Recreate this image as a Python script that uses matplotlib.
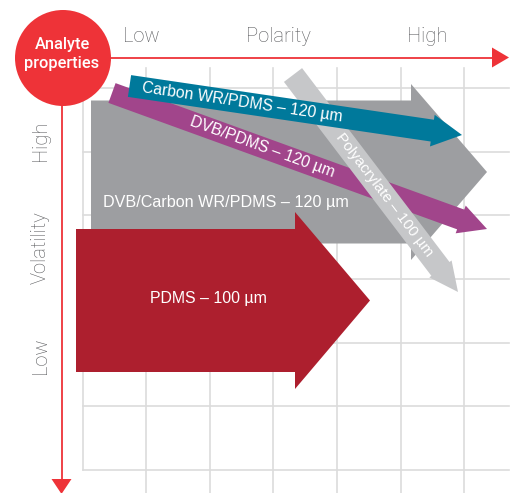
import numpy as np
import matplotlib
matplotlib.use("Agg")
import matplotlib.pyplot as plt
from matplotlib.patches import Polygon, Circle

plt.rcParams['font.family'] = ['Liberation Sans', 'DejaVu Sans']

# ---- data (diagram coordinates, pixel-like units, y grows downward) ----
polarity_labels = ["Low", "Polarity", "High"]
polarity_label_x = [141, 278, 427]
volatility_labels = ["High", "Volatility", "Low"]
volatility_label_y = [141, 248, 356]

grid_x = [83, 146, 210, 273, 337, 401, 464]
grid_y = [88, 152, 215, 279, 343, 406, 470]

fiber_names = ["DVB/Carbon WR/PDMS – 120 µm", "PDMS – 100 µm",
               "DVB/PDMS – 120 µm", "Polyacrylate – 100 µm",
               "Carbon WR/PDMS – 120 µm"]
fiber_start = [(91, 172), (76, 300.5), (112, 93), (293, 75), (129.5, 86)]
fiber_tip = [(487, 172), (370, 300.5), (487, 229), (458, 292), (462, 135)]
fiber_body_w = [143, 143, 21, 22.8, 22]
fiber_head_w = [176, 177, 29.5, 28, 32]
fiber_head_l = [76, 75, 28, 29, 30]
fiber_colors = ["#9d9ea1", "#ad1f2e", "#a1458b", "#c6c7c9", "#00799b"]
label_frac = [None, None, 0.40, 0.553, 0.338]
label_pos_fixed = [(226, 202), (208, 298), None, None, None]
label_size = [11.6, 11.4, 11.3, 11.0, 11.3]


def arrow_poly(start, tip, w, hw, hl):
    s = np.array(start, float)
    t = np.array(tip, float)
    d = t - s
    L = np.hypot(*d)
    u = d / L
    n = np.array([-u[1], u[0]])
    neck = t - u * hl
    pts = [s + n * w / 2, neck + n * w / 2, neck + n * hw / 2, t,
           neck - n * hw / 2, neck - n * w / 2, s - n * w / 2]
    return np.array(pts)


W, H = 518, 493
fig = plt.figure(figsize=(W / 100, H / 100), dpi=100)
ax = fig.add_axes([0, 0, 1, 1])
ax.set_xlim(0, W)
ax.set_ylim(H, 0)
ax.axis('off')

grid_col = "#dcdcdc"
for gx in grid_x:
    if gx == grid_x[0]:
        ax.plot([gx, gx], [grid_y[0], grid_y[-1]], color=grid_col, lw=1.2, zorder=1)
    else:
        ax.plot([gx, gx], [68, H], color=grid_col, lw=1.2, zorder=1)
for gy in grid_y:
    ax.plot([grid_x[0], 509], [gy, gy], color=grid_col, lw=1.2, zorder=1)

# arrows, drawing order: gray, red, purple, polyacrylate, teal
for k in range(len(fiber_names)):
    poly = arrow_poly(fiber_start[k], fiber_tip[k], fiber_body_w[k],
                      fiber_head_w[k], fiber_head_l[k])
    ax.add_patch(Polygon(poly, closed=True, facecolor=fiber_colors[k],
                         edgecolor='none', zorder=2 + k))
    s = np.array(fiber_start[k], float)
    t = np.array(fiber_tip[k], float)
    if label_frac[k] is None:
        pos = label_pos_fixed[k]
        rot = 0
    else:
        pos = s + (t - s) * label_frac[k]
        rot = -np.degrees(np.arctan2(t[1] - s[1], t[0] - s[0]))
    ax.text(pos[0], pos[1], fiber_names[k], color='white',
            fontsize=label_size[k], ha='center', va='center', rotation=rot,
            rotation_mode='anchor', zorder=2 + k + 0.5)

# red axes
red = "#ee3338"
ax.plot([100, 494], [57.5, 57.5], color=red, lw=1.3, zorder=10)
ax.add_patch(Polygon([[492, 47.5], [509, 57.5], [492, 67.5]], closed=True,
                     facecolor=red, edgecolor='none', zorder=10))
ax.plot([61.5, 61.5], [100, 481], color=red, lw=1.3, zorder=10)
ax.add_patch(Polygon([[51.5, 479], [61.5, 494], [71.5, 479]], closed=True,
                     facecolor=red, edgecolor='none', zorder=10))
ax.add_patch(Circle((63, 58), 48, facecolor=red, edgecolor='none', zorder=11))
circ_font = ['Roboto', 'Liberation Sans', 'DejaVu Sans']
ax.text(62, 49, "Analyte", color='white', fontsize=11.8, ha='center',
        va='baseline', zorder=12, family=circ_font, fontweight='medium')
ax.text(62, 68, "properties", color='white', fontsize=11.8, ha='center',
        va='baseline', zorder=12, family=circ_font, fontweight='medium')

txt_col = "#58595c"
light_font = ['Roboto', 'Liberation Sans', 'DejaVu Sans']
for lab, x in zip(polarity_labels, polarity_label_x):
    ax.text(x, 42, lab, color=txt_col, fontsize=14.5, ha='center',
            va='baseline', zorder=12, family=light_font, fontweight='light')
for lab, y in zip(volatility_labels, volatility_label_y):
    ax.text(46, y, lab, color=txt_col, fontsize=14.5, ha='center',
            va='baseline', rotation=90, rotation_mode='anchor', zorder=12,
            family=light_font, fontweight='light')

fig.savefig("out.png", dpi=100)
